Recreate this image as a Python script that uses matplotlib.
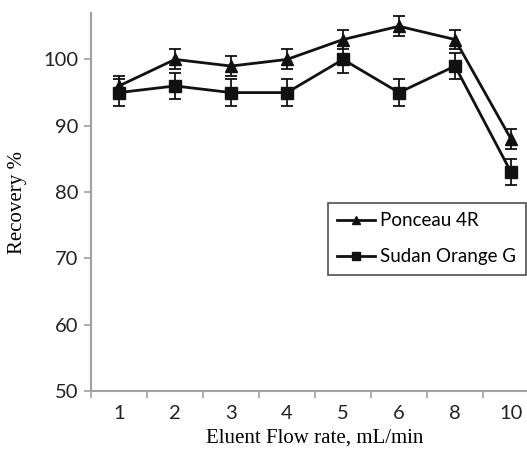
import matplotlib.pyplot as plt
from matplotlib.lines import Line2D
import numpy as np

# data
flow_rates = ['1', '2', '3', '4', '5', '6', '8', '10']
ponceau = [96, 100, 99, 100, 103, 105, 103, 88]
ponceau_err = [1.5, 1.5, 1.5, 1.5, 1.5, 1.5, 1.5, 1.5]
sudan = [95, 96, 95, 95, 100, 95, 99, 83]
sudan_err = [2, 2, 2, 2, 2, 2, 2, 2]

W, H = 527, 454
fig = plt.figure(figsize=(W / 100, H / 100), dpi=100)
# axes runs past the right edge, as in the cropped original
ax = fig.add_axes([91 / W, 1 - 391 / H, 448 / W, 378 / H])

x = np.arange(len(flow_rates))
ax.errorbar(x, ponceau, yerr=ponceau_err, color='#111111', lw=2, marker='^',
            ms=8, capsize=4, elinewidth=1.3, capthick=1.3)
ax.errorbar(x, sudan, yerr=sudan_err, color='#111111', lw=2, marker='s',
            ms=8, capsize=4, elinewidth=1.3, capthick=1.3)

ax.set_xlim(-0.5, len(flow_rates) - 0.5)
ax.set_ylim(50, 107)
ax.set_yticks([50, 60, 70, 80, 90, 100])
ax.set_xticks(x)
ax.set_xticklabels(flow_rates)
ax.set_xticks(np.arange(len(flow_rates) + 1) - 0.5, minor=True)

for s in ['top', 'right']:
    ax.spines[s].set_visible(False)
for s in ['left', 'bottom']:
    ax.spines[s].set_color('#a0a0a0')
    ax.spines[s].set_linewidth(1.5)

ax.tick_params(axis='y', length=5, width=1.2, color='#a0a0a0', labelcolor='#222222', pad=4)
ax.tick_params(axis='x', which='major', length=0, labelcolor='#222222', pad=10)
ax.tick_params(axis='x', which='minor', length=5, width=1.2, color='#a0a0a0')
for lab in ax.get_xticklabels() + ax.get_yticklabels():
    lab.set_fontfamily('Lato')
    lab.set_fontsize(14.5)

ax.set_xlabel('Eluent Flow rate, mL/min', family='Liberation Serif', fontsize=15, labelpad=5)
ax.set_ylabel('Recovery %', family='Liberation Serif', fontsize=15, labelpad=12)

handles = [
    Line2D([], [], color='#111111', lw=2, marker='^', ms=6),
    Line2D([], [], color='#111111', lw=2, marker='s', ms=6),
]
leg = ax.legend(handles, ['Ponceau 4R', 'Sudan Orange G'], loc='upper left',
                bbox_to_anchor=(328 / W, 1 - 203 / H),
                bbox_transform=fig.transFigure, frameon=True, fancybox=False,
                prop={'family': 'Lato', 'size': 13.5}, handlelength=2.0,
                handletextpad=0.3, borderpad=0.5, labelspacing=1.0, borderaxespad=0)
leg.get_frame().set_edgecolor('#222222')
leg.get_frame().set_linewidth(1.2)

fig.savefig('out.png', dpi=100)
